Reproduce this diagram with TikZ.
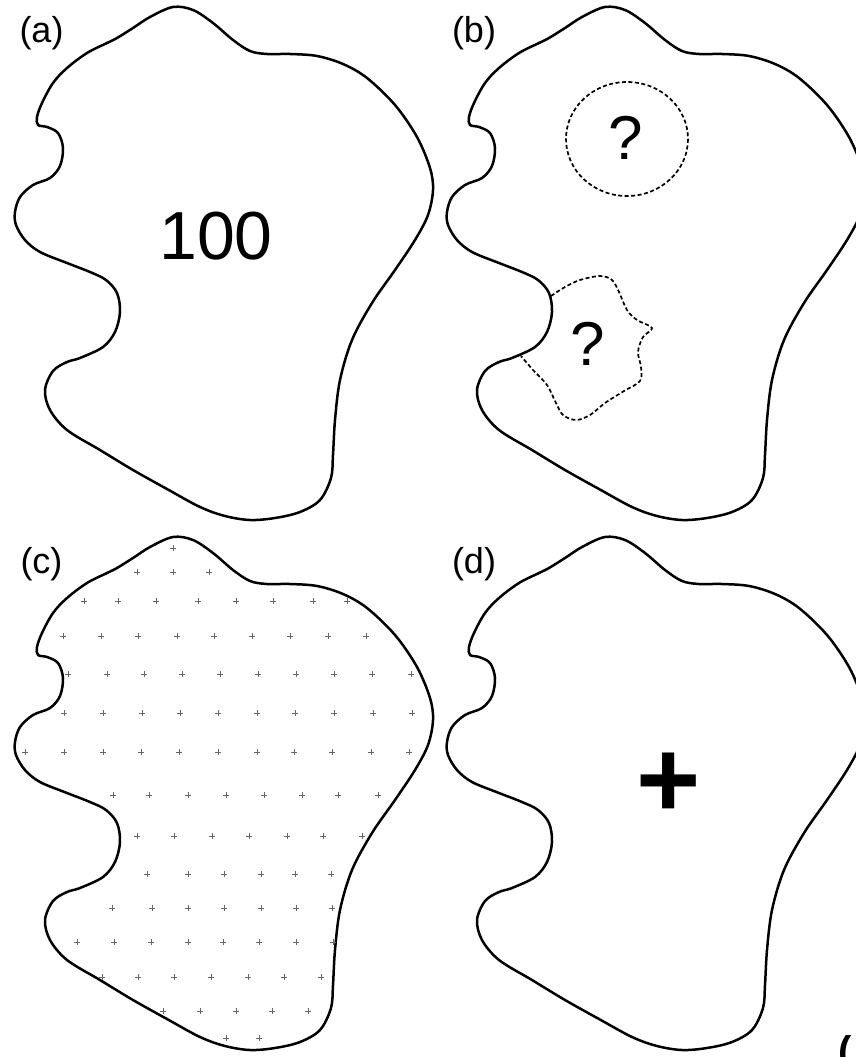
\documentclass[tikz,border=0pt]{standalone}
\usepackage{fontspec}
\setmainfont{Liberation Sans}
\tikzset{
  outline/.style={line width=2.5pt, line join=round},
  dashline/.style={line width=1.7pt, dash pattern=on 4pt off 2.5pt},
  panellabel/.style={font=\fontsize{36}{36}\selectfont, anchor=base, inner sep=0pt},
  bigtext/.style={font=\fontsize{68}{68}\selectfont, anchor=base, inner sep=0pt},
  qtext/.style={font=\fontsize{62}{62}\selectfont, anchor=base, inner sep=0pt},
  gridmark/.style={line width=0.9pt, draw=black!60},
  blob/.pic={
    \draw[outline] plot[smooth cycle, tension=0.55] coordinates {
      (173,7) (193,10) (213,23) (233,40) (250,51) (267,54) (290,54) (317,56)
      (343,64) (367,78) (395,105) (417,137) (430,168) (433,190) (428,215)
      (415,240) (395,270) (372,303) (352,340) (340,380) (335,420) (333,455)
      (331,478) (320,500) (300,512) (275,518) (250,520) (225,516) (200,507)
      (167,489) (133,470) (100,450) (67,430) (50,410) (45,390) (53,371)
      (67,362) (80,358) (103,347) (115,332) (120,312) (117,293) (106,280)
      (90,272) (67,263) (40,252) (25,240) (16,225) (15,212) (20,197) (33,185)
      (50,178) (60,166) (63,148) (58,133) (47,127) (38,125) (37,117) (42,103)
      (53,83) (67,68) (87,53) (107,43) (117,38) (133,28) (150,17)};
  }
}
\begin{document}
\begin{tikzpicture}[x=1pt, y=-1pt]
  \useasboundingbox (0,0) rectangle (856,1057);
  \clip (0,0) rectangle (856,1057);

  % four panels
  \pic at (0,0) {blob};
  \pic at (432,0) {blob};
  \pic at (0,530) {blob};
  \pic at (432,530) {blob};

  % labels
  \node[panellabel] (la) at (41.5,43) {(a)};
  \node[panellabel] (lb) at (474,43) {(b)};
  \node[panellabel] (lc) at (41.5,573) {(c)};
  \node[panellabel] (ld) at (474,573) {(d)};

  % (a)
  \node[bigtext] (hundred) at (216,259) {100};

  % (b)
  \draw[dashline] (627,139) ellipse [x radius=61, y radius=57];
  \node[qtext] (q1) at (626,159) {?};
  \draw[dashline] plot[smooth, tension=0.55] coordinates {
    (551,296) (565,287) (580,280) (600,276) (612,280) (619,292) (627,310)
    (637,320) (652,328) (643,337) (638,352) (641,367) (640,381) (624,391)
    (605,403) (590,415) (576,420) (563,415) (556,403) (547,385) (533,370) (521,356)};
  \node[qtext] (q2) at (588,365) {?};

  % (c) grid of small crosses
  \foreach \y/\xs in {
      548/{173},
      572/{137,173,209},
      601/{84,118,156,198,236,273,313,347},
      636/{63,101,138,177,214,252,290,328,366},
      674/{68,107,144,182,220,258,296,334,372,411},
      713/{64,103,142,180,218,257,295,334,373,412},
      752/{25,64,103,141,179,218,257,294,332,371,409},
      795/{113,149,188,226,264,302,338,378},
      836/{137,174,212,249,287,323,362},
      874/{147,188,224,261,295,331},
      908/{112,152,188,224,261,296,332},
      942/{77,114,151,188,223,259,296,333},
      977/{102,138,174,211,248,284,321},
      1011/{163,200,236,272,308},
      1038/{226,259}} {
    \foreach \x in \xs {
      \draw[gridmark] (\x,\y) ++(-2.8,0) -- ++(5.6,0) ++(-2.8,-2.8) -- ++(0,5.6);
    }
  }

  % (d)
  \node[font=\fontsize{110}{110}\selectfont\bfseries, anchor=center, inner sep=0pt] (plus) at (669,785) {+};

  % cut-off caption parenthesis (cut off at the bottom edge, as in the reference)
  \node[font=\fontsize{40}{40}\selectfont\bfseries, anchor=base west, inner sep=0pt] (cap) at (838,1064) {(};
\end{tikzpicture}
\end{document}
